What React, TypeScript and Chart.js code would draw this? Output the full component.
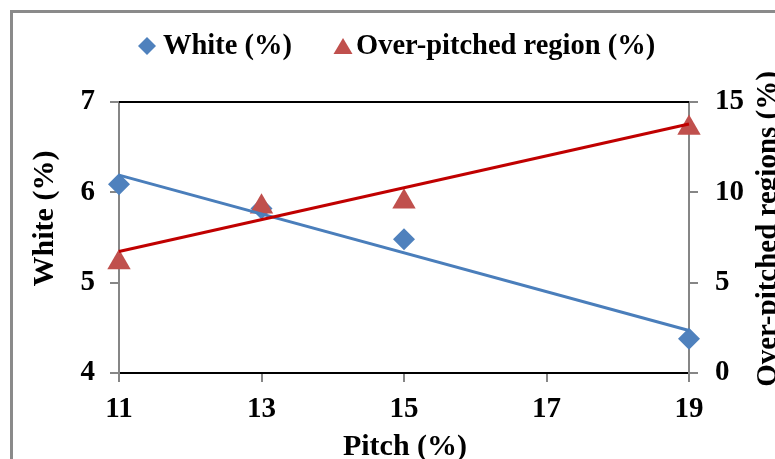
import React, { useEffect, useRef } from "react";
import { Chart, registerables } from "chart.js";

Chart.register(...registerables);

// ---- data ----
const pitch = [11, 13, 15, 19];
const whitePct = [6.09, 5.82, 5.48, 4.38];
const overPct = [6.12, 9.2, 9.48, 13.56];
const trendPitch = [11, 19];
const whiteTrend = [6.19, 4.47];
const overTrend = [6.73, 13.78];

const xTicks = [11, 13, 15, 17, 19];
const yTicks = [4, 5, 6, 7];
const y2Ticks = [0, 5, 10, 15];

const legendLabels = ["White (%)", "Over-pitched region (%)"];
const xTitle = "Pitch (%)";
const yTitle = "White (%)";
const y2Title = "Over-pitched regions (%)";

const BLUE = "#4F81BD";
const BLUE_LINE = "#4A7EBB";
const RED = "#C0504D";
const RED_LINE = "#C00000";
const AXIS_GRAY = "#868686";
const FRAME_GRAY = "#8A8A8A";
const SERIF = "'Liberation Serif', 'Times New Roman', serif";

const decor = {
  id: "decor",
  beforeDraw(chart: any) {
    const ctx = chart.ctx;
    ctx.save();
    ctx.fillStyle = "#ffffff";
    ctx.fillRect(0, 0, chart.width, chart.height);
    ctx.strokeStyle = FRAME_GRAY;
    ctx.lineWidth = 3;
    ctx.beginPath();
    ctx.moveTo(11.5, chart.height + 10);
    ctx.lineTo(11.5, 11.5);
    ctx.lineTo(chart.width + 10, 11.5);
    ctx.stroke();
    ctx.restore();
  },
  beforeDatasetsDraw(chart: any) {
    const { ctx, chartArea } = chart;
    ctx.save();
    ctx.strokeStyle = "#000000";
    ctx.lineWidth = 2;
    ctx.beginPath();
    ctx.moveTo(chartArea.left, chartArea.top);
    ctx.lineTo(chartArea.right, chartArea.top);
    ctx.stroke();
    ctx.restore();
  },
  afterDraw(chart: any) {
    const ctx = chart.ctx;
    ctx.save();
    ctx.fillStyle = "#000000";
    ctx.textBaseline = "alphabetic";

    // legend
    ctx.font = `bold 28.5px ${SERIF}`;
    ctx.textAlign = "left";
    ctx.fillStyle = BLUE;
    ctx.beginPath();
    ctx.moveTo(147, 37);
    ctx.lineTo(156, 46);
    ctx.lineTo(147, 55);
    ctx.lineTo(138, 46);
    ctx.closePath();
    ctx.fill();
    ctx.fillStyle = "#000000";
    ctx.fillText(legendLabels[0], 163, 53.5);

    ctx.fillStyle = RED;
    ctx.beginPath();
    ctx.moveTo(343, 38);
    ctx.lineTo(352.5, 54);
    ctx.lineTo(333.5, 54);
    ctx.closePath();
    ctx.fill();
    ctx.fillStyle = "#000000";
    ctx.fillText(legendLabels[1], 356, 53.5);

    // x title
    ctx.font = `bold 30px ${SERIF}`;
    ctx.textAlign = "center";
    ctx.fillText(xTitle, 405, 455);

    // left title
    ctx.save();
    ctx.translate(53, 218.5);
    ctx.rotate(-Math.PI / 2);
    ctx.fillText(yTitle, 0, 0);
    ctx.restore();

    // right title
    ctx.save();
    ctx.font = `bold 29px ${SERIF}`;
    ctx.translate(776, 229);
    ctx.rotate(-Math.PI / 2);
    ctx.fillText(y2Title, 0, 0);
    ctx.restore();

    ctx.restore();
  },
};

const tickFont = { family: SERIF, size: 29, weight: "bold" as const };

export default function App() {
  const ref = useRef<HTMLCanvasElement | null>(null);

  useEffect(() => {
    if (!ref.current) return;
    const chart = new Chart(ref.current, {
      type: "scatter",
      data: {
        datasets: [
          {
            label: "trend-over",
            data: trendPitch.map((x, i) => ({ x, y: overTrend[i] })),
            yAxisID: "y2",
            showLine: true,
            borderColor: RED_LINE,
            borderWidth: 3,
            pointRadius: 0,
            clip: false as any,
          },
          {
            label: "trend-white",
            data: trendPitch.map((x, i) => ({ x, y: whiteTrend[i] })),
            yAxisID: "y",
            showLine: true,
            borderColor: BLUE_LINE,
            borderWidth: 3,
            pointRadius: 0,
            clip: false as any,
          },
          {
            label: legendLabels[1],
            data: pitch.map((x, i) => ({ x, y: overPct[i] })),
            yAxisID: "y2",
            pointStyle: "triangle",
            pointRadius: 13.5,
            backgroundColor: RED,
            borderWidth: 0,
            clip: false as any,
          },
          {
            label: legendLabels[0],
            data: pitch.map((x, i) => ({ x, y: whitePct[i] })),
            yAxisID: "y",
            pointStyle: "rectRot",
            pointRadius: 11,
            backgroundColor: BLUE,
            borderWidth: 0,
            clip: false as any,
          },
        ],
      },
      options: {
        animation: false,
        responsive: false,
        devicePixelRatio: 1,
        events: [],
        layout: { padding: { top: 102, left: 0, right: 0, bottom: 0 } },
        plugins: {
          legend: { display: false },
          tooltip: { enabled: false },
        },
        scales: {
          x: {
            type: "linear",
            position: "bottom",
            min: 11,
            max: 19,
            afterBuildTicks: (s: any) => {
              s.ticks = xTicks.map((v) => ({ value: v }));
            },
            afterFit: (s: any) => {
              s.height = 86;
            },
            ticks: { font: tickFont, color: "#000", padding: 10 },
            border: { color: "#000", width: 2 },
            grid: {
              drawOnChartArea: false,
              drawTicks: true,
              tickLength: 9,
              color: AXIS_GRAY,
              lineWidth: 2,
            },
          },
          y: {
            type: "linear",
            position: "left",
            min: 4,
            max: 7,
            afterBuildTicks: (s: any) => {
              s.ticks = yTicks.map((v) => ({ value: v }));
            },
            afterFit: (s: any) => {
              s.width = 119;
            },
            ticks: { font: tickFont, color: "#000", padding: 15 },
            border: { color: AXIS_GRAY, width: 2 },
            grid: {
              drawOnChartArea: false,
              drawTicks: true,
              tickLength: 9,
              color: AXIS_GRAY,
              lineWidth: 2,
            },
          },
          y2: {
            type: "linear",
            position: "right",
            min: 0,
            max: 15,
            afterBuildTicks: (s: any) => {
              s.ticks = y2Ticks.map((v) => ({ value: v }));
            },
            afterFit: (s: any) => {
              s.width = 86;
            },
            ticks: { font: tickFont, color: "#000", padding: 17 },
            border: { color: AXIS_GRAY, width: 2 },
            grid: {
              drawOnChartArea: false,
              drawTicks: true,
              tickLength: 9,
              color: AXIS_GRAY,
              lineWidth: 2,
            },
          },
        },
      },
      plugins: [decor],
    } as any);
    return () => chart.destroy();
  }, []);

  return (
    <div style={{ position: "fixed", left: 0, top: 0, width: 775, height: 459, overflow: "hidden", background: "#fff" }}>
      <canvas ref={ref} width={775} height={459} style={{ display: "block", width: 775, height: 459 }} />
    </div>
  );
}
